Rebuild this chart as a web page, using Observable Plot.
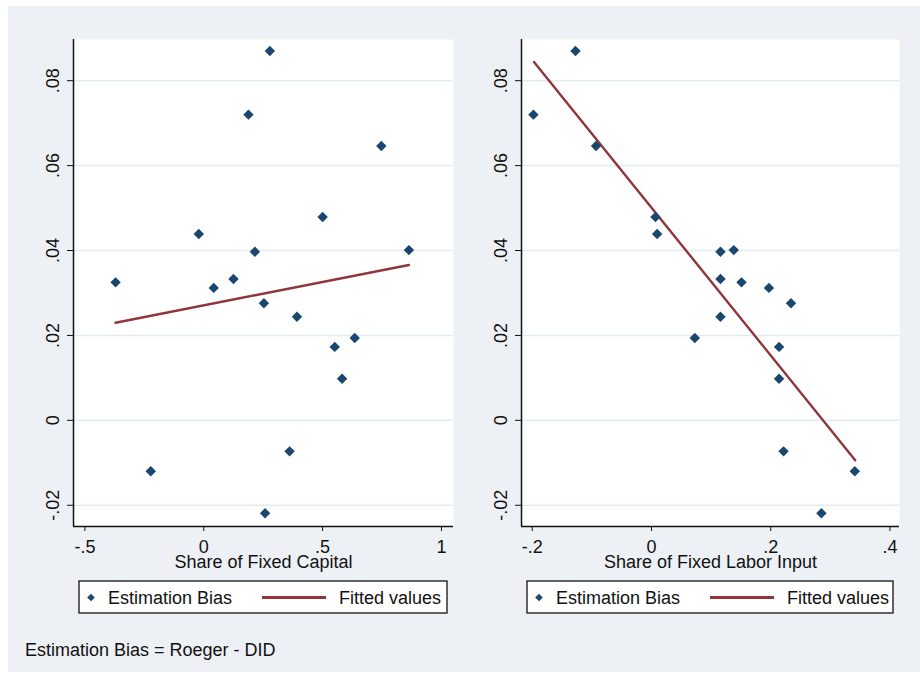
<!DOCTYPE html>
<html>
<head>
<meta charset="utf-8">
<script src="https://cdn.jsdelivr.net/npm/d3@7"></script>
<script src="https://cdn.jsdelivr.net/npm/@observablehq/plot@0.6"></script>
<style>
html, body { margin: 0; padding: 0; background: #ffffff; }
#wrap { position: relative; width: 920px; height: 674px; overflow: hidden; font-family: "Liberation Sans", Arial, sans-serif; }
#bg { position: absolute; left: 8px; top: 6px; width: 912px; height: 666px; background: #edf1f6; }
.panel { position: absolute; top: 0; }
#overlay { position: absolute; left: 0; top: 0; }
</style>
</head>
<body>
<div id="wrap">
  <div id="bg"></div>
  <div class="panel" id="left" style="left:0px"></div>
  <div class="panel" id="right" style="left:460px"></div>
  <svg id="overlay" width="920" height="674"></svg>
</div>
<script>
// ---------------- data ----------------
const estimationBias = [0.0870, 0.0720, 0.0646, 0.0479, 0.0439, 0.0397, 0.0401, 0.0325, 0.0333,
                        0.0312, 0.0276, 0.0244, 0.0194, 0.0173, 0.0098, -0.0073, -0.0120, -0.0219];
const shareFixedCapital = [0.278, 0.188, 0.747, 0.500, -0.021, 0.215, 0.863, -0.371, 0.125,
                           0.042, 0.253, 0.392, 0.635, 0.551, 0.582, 0.361, -0.223, 0.258];
const shareFixedLabor = [-0.1275, -0.198, -0.093, 0.0067, 0.0095, 0.1157, 0.138, 0.151, 0.1157,
                         0.197, 0.234, 0.1157, 0.0727, 0.214, 0.214, 0.2215, 0.341, 0.285];

// fitted values (line endpoints)
const fitCapitalX = [-0.371, 0.863];
const fitCapitalY = [0.0230, 0.0366];
const fitLaborX = [-0.197, 0.3417];
const fitLaborY = [0.0844, -0.0094];

const yTicks = [-0.02, 0, 0.02, 0.04, 0.06, 0.08];
const yTickLabels = ["-.02", "0", ".02", ".04", ".06", ".08"];
const capitalTicks = [-0.5, 0, 0.5, 1];
const capitalTickLabels = ["-.5", "0", ".5", "1"];
const laborTicks = [-0.2, 0, 0.2, 0.4];
const laborTickLabels = ["-.2", "0", ".2", ".4"];

const legendLabels = ["Estimation Bias", "Fitted values"];
const caption = "Estimation Bias = Roeger - DID";

// ---------------- styling ----------------
const FONT = "'Liberation Sans', Arial, sans-serif";
const NAVY = "#1a476f";
const MAROON = "#90353b";
const yDomain = [-0.025, 0.0897];

function panel(xVals, xDomain, xTicks, xTickLabels, xTitle, fitX, fitY, marginLeft, marginRight) {
  const pts = estimationBias.map((y, i) => ({x: xVals[i], y}));
  const fit = fitX.map((x, i) => ({x, y: fitY[i]}));
  return Plot.plot({
    width: 460,
    height: 580,
    marginLeft, marginRight,
    marginTop: 39,
    marginBottom: 54,
    style: {background: "transparent", fontFamily: FONT, fontSize: "18px", color: "#111", overflow: "visible"},
    x: {domain: xDomain},
    y: {domain: yDomain},
    marks: [
      Plot.frame({fill: "white", stroke: null}),
      Plot.gridY(yTicks, {stroke: "#e3ebf2", strokeOpacity: 1, strokeWidth: 1.5}),
      Plot.axisY(yTicks, {tickSize: 6, tickPadding: 9, tickRotate: -90,
        tickFormat: d => yTickLabels[yTicks.indexOf(d)], label: null}),
      Plot.axisX(xTicks, {tickSize: 5, tickPadding: 9,
        tickFormat: d => xTickLabels[xTicks.indexOf(d)], label: null}),
      Plot.ruleX([xDomain[0]], {stroke: "#111", strokeWidth: 1.5}),
      Plot.ruleY([yDomain[0]], {stroke: "#111", strokeWidth: 1.5}),
      Plot.line(fit, {x: "x", y: "y", stroke: MAROON, strokeWidth: 2.4}),
      Plot.dot(pts, {x: "x", y: "y", symbol: "diamond2", r: 4.7, fill: NAVY, stroke: null}),
      Plot.text([xTitle], {frameAnchor: "bottom", dy: 41.5, lineAnchor: "bottom", text: d => d,
        fill: "#111", fontSize: 18})
    ]
  });
}

document.getElementById("left").append(
  panel(shareFixedCapital, [-0.548, 1.0506], capitalTicks, capitalTickLabels,
        "Share of Fixed Capital", fitCapitalX, fitCapitalY, 73, 7));
document.getElementById("right").append(
  panel(shareFixedLabor, [-0.218, 0.416], laborTicks, laborTickLabels,
        "Share of Fixed Labor Input", fitLaborX, fitLaborY, 61, 21));

// ---------------- legends + caption ----------------
const svg = d3.select("#overlay").style("font-family", FONT);
function legend(x0, w) {
  const g = svg.append("g").attr("transform", `translate(${x0},581)`);
  g.append("rect").attr("x", 0).attr("y", 0).attr("width", w).attr("height", 32)
    .attr("fill", "white").attr("stroke", "#111").attr("stroke-width", 1.3);
  g.append("path").attr("d", "M0,-3.8L3.8,0L0,3.8L-3.8,0Z")
    .attr("transform", "translate(12,16.5)").attr("fill", NAVY);
  g.append("text").attr("x", 29).attr("y", 23).attr("font-size", 18).attr("fill", "#111").text(legendLabels[0]);
  g.append("line").attr("x1", 183).attr("x2", 247).attr("y1", 16.5).attr("y2", 16.5)
    .attr("stroke", MAROON).attr("stroke-width", 3);
  g.append("text").attr("x", 260).attr("y", 23).attr("font-size", 18).attr("fill", "#111").text(legendLabels[1]);
}
legend(79, 368);
legend(527, 366);
svg.append("text").attr("x", 25).attr("y", 656).attr("font-size", 18).attr("fill", "#111").text(caption);
</script>
</body>
</html>
